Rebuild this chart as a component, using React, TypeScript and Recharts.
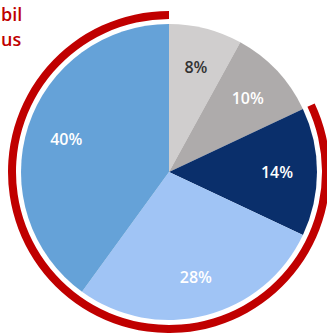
import { PieChart, Pie, Cell } from "recharts";

const categories = ["A", "B", "C", "D", "E"];
const shares = [8, 10, 14, 28, 40];
const COLORS = ["#D0CECE", "#AEABAB", "#0A2F6B", "#A0C4F5", "#65A2D8"];
const LABEL_COLORS = ["#333333", "#FFFFFF", "#FFFFFF", "#FFFFFF", "#FFFFFF"];
// slices covered by the red ring
const highlighted = ["C", "D", "E"];
const titleLines = ["bil", "us"];

const data = categories.map((name, i) => ({ name, value: shares[i] }));

const total = shares.reduce((a, b) => a + b, 0);
const firstHighlighted = categories.indexOf(highlighted[0]);
const beforeSum = shares.slice(0, firstHighlighted).reduce((a, b) => a + b, 0);
const highlightSum = highlighted
  .map((c) => shares[categories.indexOf(c)])
  .reduce((a, b) => a + b, 0);
const ringStart = 90 - (360 * beforeSum) / total;
const ringEnd = ringStart - (360 * highlightSum) / total;

const RADIAN = Math.PI / 180;

const renderLabel = (props: any) => {
  const { cx, cy, midAngle, outerRadius, index, value } = props;
  const r = outerRadius * 0.73;
  const x = cx + r * Math.cos(-midAngle * RADIAN);
  const y = cy + r * Math.sin(-midAngle * RADIAN);
  return (
    <text
      x={x}
      y={y}
      fill={LABEL_COLORS[index]}
      textAnchor="middle"
      dominantBaseline="central"
      fontSize={16}
      fontWeight={600}
      fontFamily="'Open Sans', sans-serif"
    >
      {`${value}%`}
    </text>
  );
};

export default function App() {
  return (
    <div style={{ position: "absolute", left: 0, top: 0, width: 327, height: 333, background: "#fff" }}>
      <PieChart width={327} height={333} margin={{ top: 0, right: 0, bottom: 0, left: 0 }}>
        {titleLines.map((t, i) => (
          <text
            key={t}
            x={1}
            y={21 + i * 25}
            fill="#C00000"
            fontSize={18}
            fontWeight={600}
            fontFamily="'Open Sans', sans-serif"
          >
            {t}
          </text>
        ))}
        <Pie
          data={data}
          dataKey="value"
          cx={169}
          cy={172}
          outerRadius={148}
          startAngle={90}
          endAngle={-270}
          stroke="none"
          label={renderLabel}
          labelLine={false}
          isAnimationActive={false}
        >
          {data.map((entry, index) => (
            <Cell key={entry.name} fill={COLORS[index]} />
          ))}
        </Pie>
        <Pie
          data={[{ name: "ring", value: highlightSum }]}
          dataKey="value"
          cx={169}
          cy={172}
          innerRadius={153}
          outerRadius={161}
          startAngle={ringStart}
          endAngle={ringEnd}
          stroke="none"
          fill="#C00000"
          isAnimationActive={false}
        />
      </PieChart>
    </div>
  );
}
